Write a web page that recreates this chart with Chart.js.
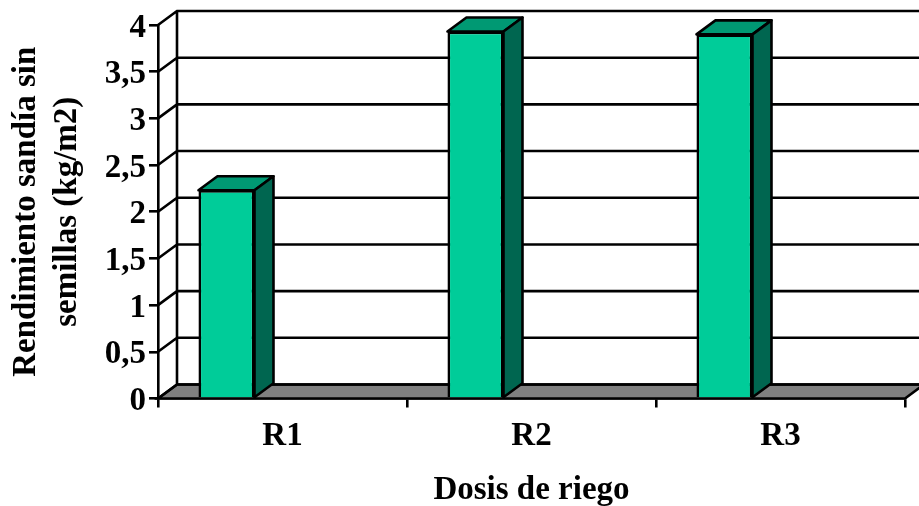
<!DOCTYPE html>
<html lang="es">
<head>
<meta charset="utf-8">
<title>Rendimiento sandía sin semillas</title>
<script src="https://cdn.jsdelivr.net/npm/chart.js@4"></script>
<style>
  html, body { margin: 0; padding: 0; background: #fff; }
  canvas { display: block; }
</style>
</head>
<body>
<canvas id="chart" width="919" height="506"></canvas>
<script>
const categories = ['R1', 'R2', 'R3'];
const rendimiento = [2.23, 3.93, 3.9];
const yTitle = ['Rendimiento sandía sin', 'semillas (kg/m2)'];
const xTitle = 'Dosis de riego';

const depthX = 19;
const depthY = 14;
const lineW = 2.6;

// fake 3D: floor and back wall go under the bars, sides and tops go over them
const box3d = {
  id: 'box3d',
  afterLayout(chart) {
    // y labels sit a little low against their ticks in the original
    chart.scales.y.getLabelItems().forEach(item => { item.options.translation[1] += 3; });
  },
  beforeDatasetsDraw(chart) {
    const { ctx, chartArea: a, scales: { y } } = chart;
    ctx.save();
    ctx.strokeStyle = '#000';
    ctx.lineWidth = lineW;

    ctx.beginPath();
    ctx.moveTo(a.left, a.bottom);
    ctx.lineTo(a.left + depthX, a.bottom - depthY);
    ctx.lineTo(a.right + depthX, a.bottom - depthY);
    ctx.lineTo(a.right, a.bottom);
    ctx.closePath();
    ctx.fillStyle = '#808080';
    ctx.fill();
    ctx.stroke();

    ctx.beginPath();
    y.ticks.forEach(t => {
      const py = y.getPixelForValue(t.value);
      ctx.moveTo(a.left, py);
      ctx.lineTo(a.left + depthX, py - depthY);
      ctx.lineTo(a.right + depthX, py - depthY);
    });
    ctx.moveTo(a.left + depthX, a.top - depthY);
    ctx.lineTo(a.left + depthX, a.bottom - depthY);
    ctx.stroke();
    ctx.restore();
  },
  afterDatasetsDraw(chart) {
    const { ctx } = chart;
    ctx.save();
    ctx.strokeStyle = '#000';
    ctx.lineWidth = lineW;
    ctx.lineJoin = 'round';
    chart.getDatasetMeta(0).data.forEach(bar => {
      const l = bar.x - bar.width / 2;
      const r = bar.x + bar.width / 2;

      ctx.beginPath();
      ctx.moveTo(l, bar.y);
      ctx.lineTo(l + depthX, bar.y - depthY);
      ctx.lineTo(r + depthX, bar.y - depthY);
      ctx.lineTo(r, bar.y);
      ctx.closePath();
      ctx.fillStyle = '#009973';
      ctx.fill();
      ctx.stroke();

      ctx.beginPath();
      ctx.moveTo(r, bar.y);
      ctx.lineTo(r + depthX, bar.y - depthY);
      ctx.lineTo(r + depthX, bar.base - depthY);
      ctx.lineTo(r, bar.base);
      ctx.closePath();
      ctx.fillStyle = '#006650';
      ctx.fill();
      ctx.stroke();
    });
    ctx.restore();
  }
};

const serif = { family: '"Liberation Serif"', weight: 'bold', size: 33 };

new Chart(document.getElementById('chart'), {
  type: 'bar',
  data: {
    labels: categories,
    datasets: [
      {
        data: rendimiento,
        backgroundColor: '#00CC99',
        borderColor: '#000',
        borderWidth: 2.6,
        categoryPercentage: 0.9,
        barPercentage: 0.5
      },
      // empty second series, keeps the bars left of the category centre
      { data: [], categoryPercentage: 0.9, barPercentage: 0.5 }
    ]
  },
  options: {
    responsive: false,
    animation: false,
    layout: { padding: { top: 25, right: 14, left: 0, bottom: 0 } },
    plugins: { legend: { display: false }, tooltip: { enabled: false } },
    scales: {
      x: {
        afterFit(scale) { scale.height = 107.5; },
        grid: {
          offset: true,
          drawOnChartArea: false,
          color: '#000',
          lineWidth: 2.6,
          tickLength: 9,
          tickColor: '#000'
        },
        border: { color: '#000', width: 2.6 },
        ticks: { color: '#000', font: serif, padding: 9, maxRotation: 0 },
        title: {
          display: true,
          text: xTitle,
          color: '#000',
          font: serif,
          padding: { top: 0, bottom: -4 }
        }
      },
      y: {
        min: 0,
        max: 4,
        afterFit(scale) { scale.width = 158; },
        grid: {
          drawOnChartArea: false,
          color: '#000',
          lineWidth: 2.6,
          tickLength: 9,
          tickColor: '#000'
        },
        border: { color: '#000', width: 2.6 },
        ticks: {
          stepSize: 0.5,
          color: '#000',
          font: serif,
          padding: 3,
          callback: v => String(v).replace('.', ',')
        },
        title: {
          display: true,
          text: yTitle,
          color: '#000',
          font: { ...serif, lineHeight: 1.25 },
          padding: { top: 6, bottom: 0 }
        }
      }
    }
  },
  plugins: [box3d]
});
</script>
</body>
</html>
